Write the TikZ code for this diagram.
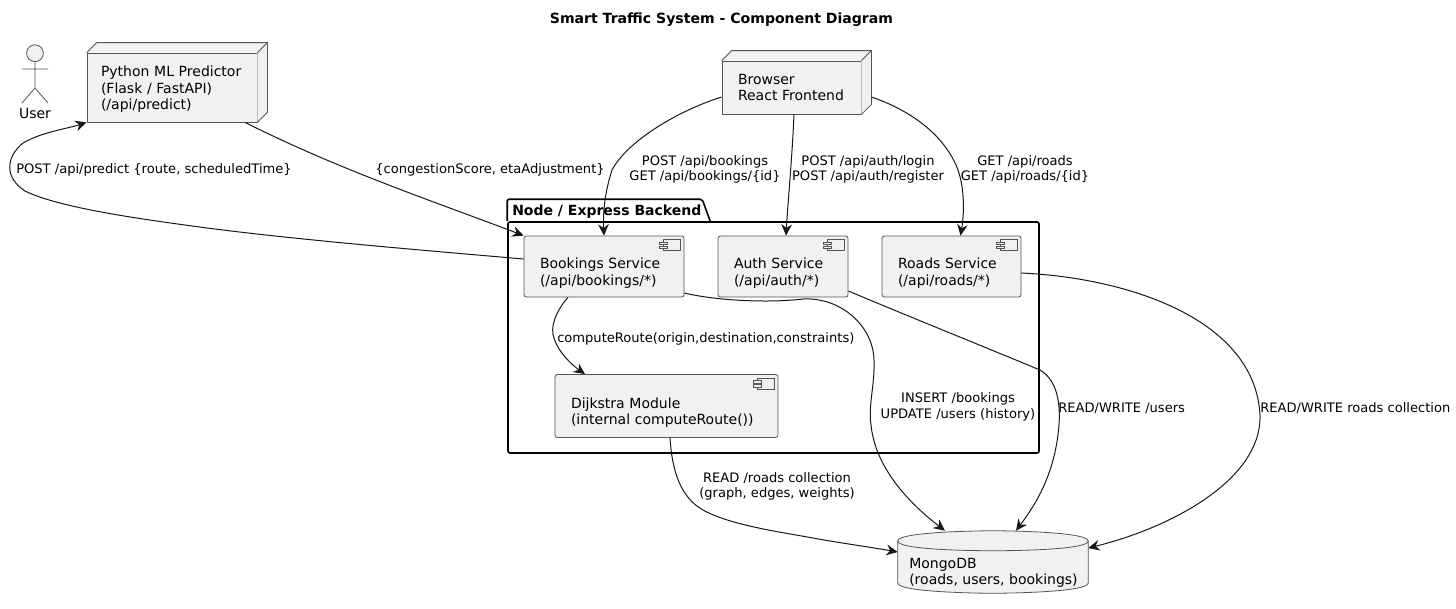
\documentclass[tikz,border=0pt]{standalone}
\usepackage{fontspec}
\setmainfont{DejaVu Sans}
\usetikzlibrary{arrows.meta,calc}
\def\pxu{0.75pt}
\definecolor{boxfill}{HTML}{F1F1F1}
\definecolor{boxline}{HTML}{555555}
\definecolor{edgeline}{HTML}{181818}
\newcommand{\topgap}{\rule{0pt}{18pt}}
\tikzset{
  boxtext/.style={font=\fontsize{10.5pt}{12.4pt}\selectfont,align=left},
  comp/.style={boxtext,draw=boxline,fill=boxfill,line width=0.6pt,rounded corners=1.8pt,inner sep=0pt},
  depl/.style={boxtext,draw=boxline,fill=boxfill,line width=0.6pt,inner sep=0pt},
  edgelabel/.style={font=\fontsize{9.8pt}{11.7pt}\selectfont,align=center,inner sep=0pt,text=black},
  leftlabel/.style={edgelabel,anchor=west,align=left},
  flow/.style={draw=edgeline,line width=0.75pt,-{Stealth[length=8.5pt,width=8pt,inset=2.8pt]}},
  outline/.style={draw=boxline,line width=0.6pt},
}
\newcommand{\compicon}[1]{%
  \draw[outline,fill=boxfill] ($(#1.north east)+(-21,4)$) rectangle ($(#1.north east)+(-4,15)$);
  \draw[outline,fill=boxfill] ($(#1.north east)+(-25,6.5)$) rectangle ($(#1.north east)+(-17,9)$);
  \draw[outline,fill=boxfill] ($(#1.north east)+(-25,10.5)$) rectangle ($(#1.north east)+(-17,13)$);
}
\newcommand{\depth}[1]{%
  \fill[boxfill] (#1.north west) -- ++(10,-10) -- ($(#1.north east)+(10,-10)$) -- ($(#1.south east)+(10,-10)$) -- (#1.south east) -- (#1.north east) -- cycle;
  \draw[outline] (#1.north west) -- ++(10,-10) -- ($(#1.north east)+(10,-10)$) -- ($(#1.south east)+(10,-10)$) -- (#1.south east);
  \draw[outline] (#1.north east) -- ++(10,-10);
}
\begin{document}
\begin{tikzpicture}[x=0.75pt,y=-0.75pt]
\useasboundingbox[fill=white] (0,0) rectangle (1456,608);

\node[font=\bfseries\fontsize{10.55pt}{12.4pt}\selectfont,inner sep=0pt] (title) at (721.5,19.5) {Smart Traffic System - Component Diagram};

% actor
\node[font=\fontsize{10.5pt}{12.4pt}\selectfont,inner sep=0pt] (user) at (35,113) {User};
\draw[outline,fill=boxfill] (35,53.2) circle[radius=8.4];
\draw[outline] (35,61.6) -- (35,88) (22,69) -- (48,69) (22,103) -- (35,88) -- (48,103);

% package
\node[draw=black,line width=1.2pt,minimum width=531*\pxu,minimum height=231*\pxu,inner sep=0pt,rounded corners=1.5pt] (pkg) at (773.5,337.5) {};
\draw[draw=black,line width=1.2pt,rounded corners=1.5pt] (pkg.north west) -- ++(0,-22) -- ++(195,0) -- (710.5,222);
\node[anchor=west,font=\bfseries\fontsize{10.5pt}{12.4pt}\selectfont,inner sep=0pt] (pkglabel) at (512,211.5) {Node / Express Backend};

% deployment nodes
\node[depl,minimum width=170*\pxu,minimum height=69*\pxu,text width=142*\pxu] (py) at (172,87.5) {\rule{0pt}{10.5pt}Python ML Predictor\\(Flask / FastAPI)\\(/api/predict)};
\depth{py}
\node[depl,minimum width=139*\pxu,minimum height=53*\pxu,text width=107*\pxu] (br) at (791.5,87.5) {Browser\\React Frontend};
\depth{br}

% components
\node[comp,minimum width=160*\pxu,minimum height=61*\pxu,text width=128*\pxu] (bk) at (604,266.5) {\topgap Bookings Service\\(/api/bookings/*)};
\compicon{bk}
\node[comp,minimum width=130*\pxu,minimum height=61*\pxu,text width=98*\pxu] (au) at (783,266.5) {\topgap Auth Service\\(/api/auth/*)};
\compicon{au}
\node[comp,minimum width=139*\pxu,minimum height=61*\pxu,text width=107*\pxu] (ro) at (951.5,266.5) {\topgap Roads Service\\(/api/roads/*)};
\compicon{ro}
\node[comp,minimum width=223*\pxu,minimum height=63*\pxu,text width=191*\pxu] (dj) at (666.5,406) {\topgap Dijkstra Module\\(internal computeRoute())};
\compicon{dj}

% database
\node[minimum width=190*\pxu,minimum height=62*\pxu,inner sep=0pt] (db) at (993,562) {};
\draw[outline,fill=boxfill] ($(db.west)+(0,-21)$)
  .. controls ($(db.west)+(0,-31)$) and (db.north) .. (db.north)
  .. controls (db.north) and ($(db.east)+(0,-31)$) .. ($(db.east)+(0,-21)$)
  -- ($(db.east)+(0,21)$)
  .. controls ($(db.east)+(0,31)$) and (db.south) .. (db.south)
  .. controls (db.south) and ($(db.west)+(0,31)$) .. ($(db.west)+(0,21)$)
  -- cycle;
\draw[outline] ($(db.west)+(0,-21)$)
  .. controls ($(db.west)+(0,-11)$) and ($(db.north)+(0,20)$) .. ($(db.north)+(0,20)$)
  .. controls ($(db.north)+(0,20)$) and ($(db.east)+(0,-11)$) .. ($(db.east)+(0,-21)$);
\node[boxtext,anchor=west,inner sep=0pt] (dbtext) at (909,573) {MongoDB\\(roads, users, bookings)};

% connectors
\draw[flow] ($(br.west)+(0,9.5)$) .. controls (680,110) and (628,140) .. (612,170) .. controls (604,195) and (603,215) .. (bk.north);
\draw[flow] ($(br.south)+(2.5,0)$) .. controls (792,160) and (788,200) .. ($(au.north)+(3,0)$);
\draw[flow] ($(br.east)+(10,9.5)$) .. controls (910,110) and (945,135) .. (958,170) .. controls (965,190) and (964,215) .. ($(ro.north)+(9,0)$);
\draw[flow] ($(py.south)+(73,0)$) .. controls (340,170) and (430,200) .. (bk.north west);
\draw[flow] ($(bk.west)+(0,-7.5)$) .. controls (420,250) and (300,240) .. (207,228) .. controls (140,219) and (60,208) .. (25,191) .. controls (5,178) and (5,158) .. (23,143) .. controls (42,132) and (66,129) .. (py.south west);
\draw[flow] ($(bk.south)+(-36,0)$) .. controls (555,312) and (550,328) .. (554,338) .. controls (558,352) and (572,365) .. ($(dj.north)+(-81.5,0)$);
\draw[flow] ($(bk.east)+(0,26.5)$) .. controls (718,301) and (770,303) .. (803,299) .. controls (840,297) and (873,325) .. (874,360) .. controls (875,385) and (868,405) .. (871,425) .. controls (875,465) and (905,500) .. ($(db.north)+(-48,0)$);
\draw[flow] ($(au.east)+(0,24.5)$) .. controls (910,317) and (980,345) .. (1040,370) .. controls (1060,382) and (1060,410) .. (1059,425) .. controls (1055,475) and (1035,505) .. ($(db.north)+(23,0)$);
\draw[flow] ($(ro.east)+(0,6.5)$) .. controls (1130,278) and (1255,320) .. (1260,415) .. controls (1262,480) and (1170,528) .. ($(db.east)+(0,-14)$);
\draw[flow] ($(dj.south)+(3.5,0)$) .. controls (672,470) and (680,497) .. (703,510) .. controls (730,525) and (780,532) .. (813,538) .. controls (840,543) and (870,547) .. ($(db.west)+(0,-10)$);

% labels
\node[edgelabel] (l1) at (705,169.5) {POST /api/bookings\\GET /api/bookings/\{id\}};
\node[edgelabel] (l2) at (868,169.5) {POST /api/auth/login\\POST /api/auth/register};
\node[edgelabel] (l3) at (1025,169.5) {GET /api/roads\\GET /api/roads/\{id\}};
\node[edgelabel] (l4) at (490,170) {\{congestionScore, etaAdjustment\}};
\node[leftlabel] (l5) at (16,170) {POST /api/predict \{route, scheduledTime\}};
\node[leftlabel] (l6) at (557,338.5) {computeRoute(origin,destination,constraints)};
\node[edgelabel] (l7) at (958,407) {INSERT /bookings\\UPDATE /users (history)};
\node[leftlabel] (l8) at (1058,408) {READ/WRITE /users};
\node[leftlabel] (l9) at (1260,408) {READ/WRITE roads collection};
\node[edgelabel] (l10) at (777,486.5) {READ /roads collection\\(graph, edges, weights)};
\end{tikzpicture}
\end{document}
